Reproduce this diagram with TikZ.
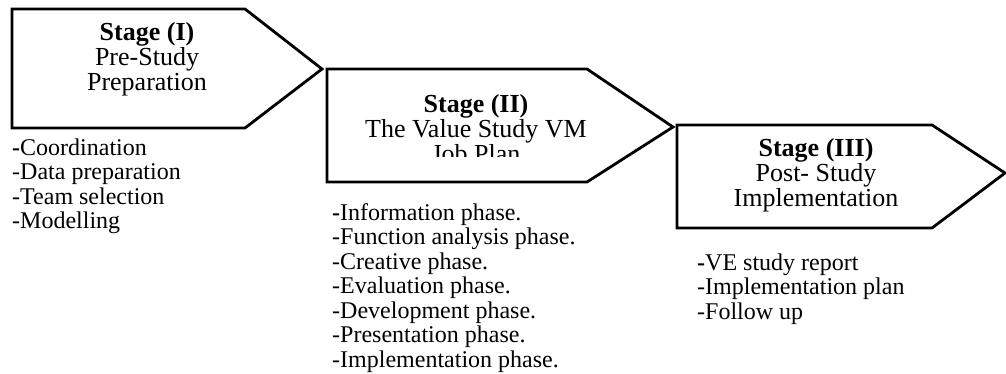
\documentclass[tikz,border=0pt]{standalone}
\usepackage{fontspec}
\setmainfont{Liberation Serif}
\begin{document}
\begin{tikzpicture}[x=1pt,y=-1pt,
  stagebox/.style={draw=black, line width=2.8pt, line join=miter, fill=white},
  title/.style={anchor=base, align=center, inner sep=0pt, font=\fontsize{26}{25}\selectfont},
  steplist/.style={anchor=base west, align=left, inner sep=0pt, font=\fontsize{24}{24.5}\selectfont}]
\useasboundingbox (0,0) rectangle (1006,374);
% stage boxes
\draw[stagebox] (12,9) -- (245,9) -- (322,69) -- (245,128) -- (12,128) -- cycle;
\draw[stagebox] (327,69) -- (587,69) -- (673,127) -- (587,182) -- (327,182) -- cycle;
\draw[stagebox] (677,125) -- (932,125) -- (1005,173) -- (932,228) -- (677,228) -- cycle;
% titles (base anchor = baseline of the last line)
\node[title] (t1) at (147,91) {\textbf{Stage (I)}\\Pre-Study\\Preparation};
\begin{scope}
  \clip (330,72) rectangle (585,157);
  \node[title] (t2) at (476,163) {\textbf{Stage (II)}\\The Value Study VM\\Job Plan};
\end{scope}
\node[title] (t3) at (816,207) {\textbf{Stage (III)}\\Post- Study\\Implementation};
% lists
\node[steplist] (l1) at (12,229) {\textbf{-}Coordination\\-Data preparation\\-Team selection\\-Modelling};
\node[steplist] (l2) at (332,367) {\textbf{-}Information phase.\\-Function analysis phase.\\-Creative phase.\\-Evaluation phase.\\-Development phase.\\-Presentation phase.\\-Implementation phase.};
\node[steplist] (l3) at (697,319) {\textbf{-}VE study report\\-Implementation plan\\-Follow up};
\end{tikzpicture}
\end{document}
